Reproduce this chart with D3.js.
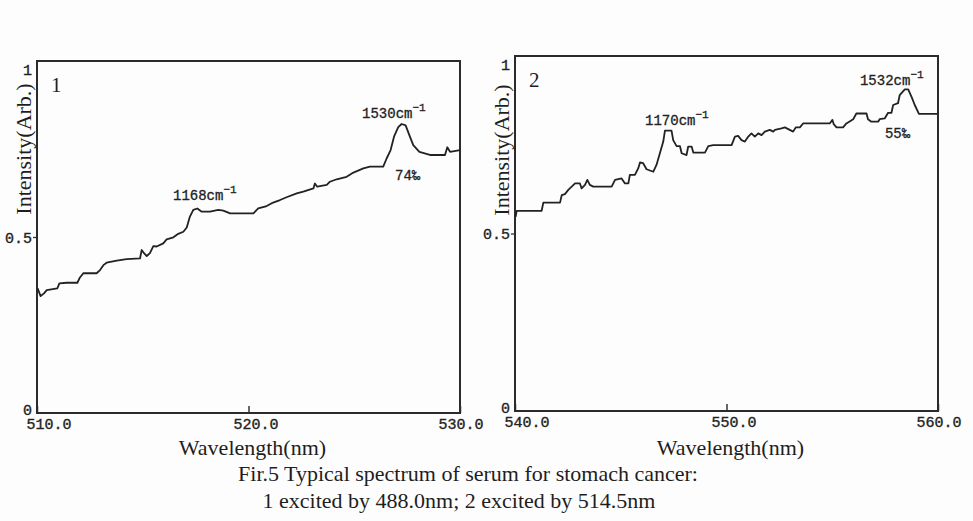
<!DOCTYPE html>
<html>
<head>
<meta charset="utf-8">
<script src="https://cdn.jsdelivr.net/npm/d3@7"></script>
<style>
  body { margin: 0; background: #fdfdfd; }
  svg { display: block; }
  .frame { fill: none; stroke: #2b2b2b; stroke-width: 2; }
  .trace { fill: none; stroke: #222; stroke-width: 1.8; stroke-linejoin: round; }
  .tick text, .ticklbl { font-family: "Liberation Mono", monospace; font-size: 15px; fill: #222; stroke: #222; stroke-width: 0.35; }
  .serif { font-family: "Liberation Serif", "Times New Roman", serif; fill: #1e1e1e; }
  .note { font-family: "Liberation Mono", monospace; font-size: 14px; fill: #222; stroke: #222; stroke-width: 0.3; }
</style>
</head>
<body>
<div id="chart"></div>
<script>
// spectrum 1 (excited by 488.0nm)
const wl1 = [510.03,510.17,510.33,510.46,510.96,511.06,511.40,511.91,512.03,512.19,512.82,512.98,513.14,513.29,513.77,514.24,514.87,514.95,515.06,515.19,515.34,515.50,515.66,515.97,516.13,516.45,516.68,516.92,517.08,517.23,517.39,517.58,517.79,518.18,518.57,518.81,519.13,519.60,520.23,520.46,520.86,521.10,521.49,521.80,522.28,522.59,523.07,523.14,523.25,523.70,523.85,524.17,524.64,524.96,525.43,525.74,526.37,526.53,526.72,526.88,527.08,527.24,527.43,527.60,527.79,528.08,528.58,529.29,529.40,529.53,530.00];
const int1 = [0.354,0.332,0.340,0.349,0.354,0.368,0.370,0.370,0.385,0.397,0.397,0.406,0.420,0.427,0.433,0.437,0.439,0.463,0.454,0.446,0.454,0.474,0.473,0.482,0.493,0.499,0.509,0.515,0.527,0.558,0.577,0.581,0.572,0.572,0.577,0.575,0.567,0.567,0.567,0.581,0.588,0.596,0.605,0.613,0.624,0.629,0.638,0.652,0.643,0.648,0.657,0.664,0.671,0.683,0.695,0.700,0.700,0.723,0.747,0.785,0.812,0.821,0.817,0.790,0.761,0.742,0.733,0.733,0.755,0.742,0.747];

// spectrum 2 (excited by 514.5nm)
const wl2 = [540.03,540.08,541.26,541.34,542.13,542.21,542.36,542.52,542.68,542.84,543.07,543.15,543.31,543.42,543.54,543.70,544.57,544.73,545.04,545.20,545.36,545.43,545.67,545.83,545.91,546.06,546.22,546.54,546.69,546.85,547.01,547.09,547.40,547.48,547.64,547.80,547.88,548.11,548.19,548.35,548.43,548.98,549.14,549.37,550.24,550.40,550.55,550.71,550.87,551.03,551.18,551.34,551.50,551.66,551.81,552.05,552.21,552.29,552.60,552.76,552.99,553.15,553.28,553.47,553.62,554.41,554.88,555.01,555.07,555.20,555.51,555.67,555.99,556.14,556.62,556.69,556.85,557.17,557.24,557.48,557.64,557.80,557.88,558.11,558.19,558.43,558.59,558.75,558.90,559.10,559.29,560.00];
const int2 = [0.547,0.564,0.564,0.587,0.587,0.608,0.611,0.623,0.632,0.641,0.641,0.627,0.637,0.651,0.637,0.632,0.632,0.651,0.655,0.641,0.641,0.665,0.665,0.684,0.700,0.698,0.681,0.674,0.693,0.726,0.759,0.790,0.790,0.763,0.746,0.746,0.726,0.721,0.745,0.745,0.728,0.728,0.746,0.749,0.749,0.773,0.775,0.763,0.759,0.773,0.782,0.773,0.782,0.777,0.787,0.792,0.787,0.792,0.796,0.799,0.792,0.787,0.799,0.799,0.810,0.810,0.810,0.820,0.808,0.799,0.799,0.810,0.822,0.838,0.838,0.822,0.815,0.815,0.822,0.824,0.840,0.840,0.862,0.867,0.890,0.906,0.906,0.885,0.862,0.837,0.837,0.837];

const xTicks1 = [510, 520, 530];
const xTicks2 = [540, 550, 560];
const yTicks = [0, 0.5, 1];

// peak labels: [wavelength, intensity, main text, superscript]
const notes1 = [[516.43, 0.605, "1168cm", "−1"], [525.37, 0.838, "1530cm", "−1"], [526.93, 0.662, "74‰", ""]];
const notes2 = [[546.15, 0.806, "1170cm", "−1"], [556.31, 0.918, "1532cm", "−1"], [557.49, 0.769, "55‰", ""]];

const width = 973, height = 521;
const svg = d3.select("#chart").append("svg")
    .attr("width", width)
    .attr("height", height);

function drawPanel(opt) {
    let x = d3.scaleLinear().domain(opt.xDomain).range([opt.left, opt.right]);
    let y = d3.scaleLinear().domain([0, 1]).range([opt.bottom, opt.top]);
    let g = svg.append("g");

    // x axis with small inner tick
    let xAxis = g.append("g")
        .attr("transform", "translate(0," + opt.bottom + ")")
        .call(d3.axisBottom(x).tickValues(opt.xTicks).tickSize(-7).tickPadding(5).tickFormat(d3.format(".1f")));
    xAxis.select(".domain").remove();
    xAxis.selectAll(".tick line").attr("stroke", "#333").attr("stroke-width", 1.5);
    xAxis.selectAll(".tick text")
        .attr("text-anchor", (d, i) => i == 0 ? "start" : (i == opt.xTicks.length - 1 ? "end" : "middle"))
        .attr("dx", (d, i) => i == 0 ? -11 : (i == opt.xTicks.length - 1 ? 23 : 7))
        .attr("dy", "0.75em");

    // y axis
    let yAxis = g.append("g")
        .attr("transform", "translate(" + opt.left + ",0)")
        .call(d3.axisLeft(y).tickValues(yTicks).tickSize(4).tickPadding(1).tickFormat(d => d == 0.5 ? "0.5" : d));
    yAxis.select(".domain").remove();
    yAxis.selectAll(".tick line").attr("stroke", "#333").attr("stroke-width", 1.3)
        .attr("opacity", d => d == 0.5 ? 1 : 0);
    yAxis.selectAll(".tick text")
        .attr("dy", d => d == 1 ? 13 : (d == 0 ? -4 : 0) + 5);

    // frame
    g.append("rect").attr("class", "frame")
        .attr("x", opt.left).attr("y", opt.top)
        .attr("width", opt.right - opt.left).attr("height", opt.bottom - opt.top);

    // spectrum trace
    let line = d3.line().x(d => x(d[0])).y(d => y(d[1]));
    g.append("path").attr("class", "trace")
        .datum(d3.zip(opt.wl, opt.int))
        .attr("d", line);

    // peak notes
    opt.notes.forEach(n => {
        let t = g.append("text").attr("class", "note")
            .attr("x", x(n[0])).attr("y", y(n[1]));
        t.append("tspan").text(n[2]);
        if (n[3]) {
            t.append("tspan").attr("dy", -7).attr("font-size", 11).text(n[3]);
        }
    });

    // panel number
    g.append("text").attr("class", "serif")
        .attr("x", opt.left + 14).attr("y", opt.top + 31)
        .attr("font-size", 21)
        .text(opt.name);

    // axis titles
    g.append("text").attr("class", "serif")
        .attr("transform", "translate(" + (opt.left - 6) + "," + (opt.top + opt.yLabelOff) + ") rotate(-90)")
        .attr("text-anchor", "middle")
        .attr("font-size", 22)
        .text("Intensity(Arb.)");
    g.append("text").attr("class", "serif")
        .attr("x", (opt.left + opt.right) / 2 + 4).attr("y", 455)
        .attr("text-anchor", "middle")
        .attr("font-size", 22)
        .text("Wavelength(nm)");
}

drawPanel({name: "1", xDomain: [510, 530], xTicks: xTicks1, wl: wl1, int: int1, notes: notes1,
    left: 37, right: 460, top: 61, bottom: 413, yLabelOff: 88});
drawPanel({name: "2", xDomain: [540, 560], xTicks: xTicks2, wl: wl2, int: int2, notes: notes2,
    left: 515, right: 938, top: 56, bottom: 411, yLabelOff: 94});

// caption
svg.append("text").attr("class", "serif")
    .attr("x", 468).attr("y", 481)
    .attr("text-anchor", "middle").attr("font-size", 22)
    .text("Fir.5 Typical spectrum of serum for stomach cancer:");
svg.append("text").attr("class", "serif")
    .attr("x", 459).attr("y", 508)
    .attr("text-anchor", "middle").attr("font-size", 22)
    .text("1 excited by 488.0nm; 2 excited by 514.5nm");
</script>
</body>
</html>
